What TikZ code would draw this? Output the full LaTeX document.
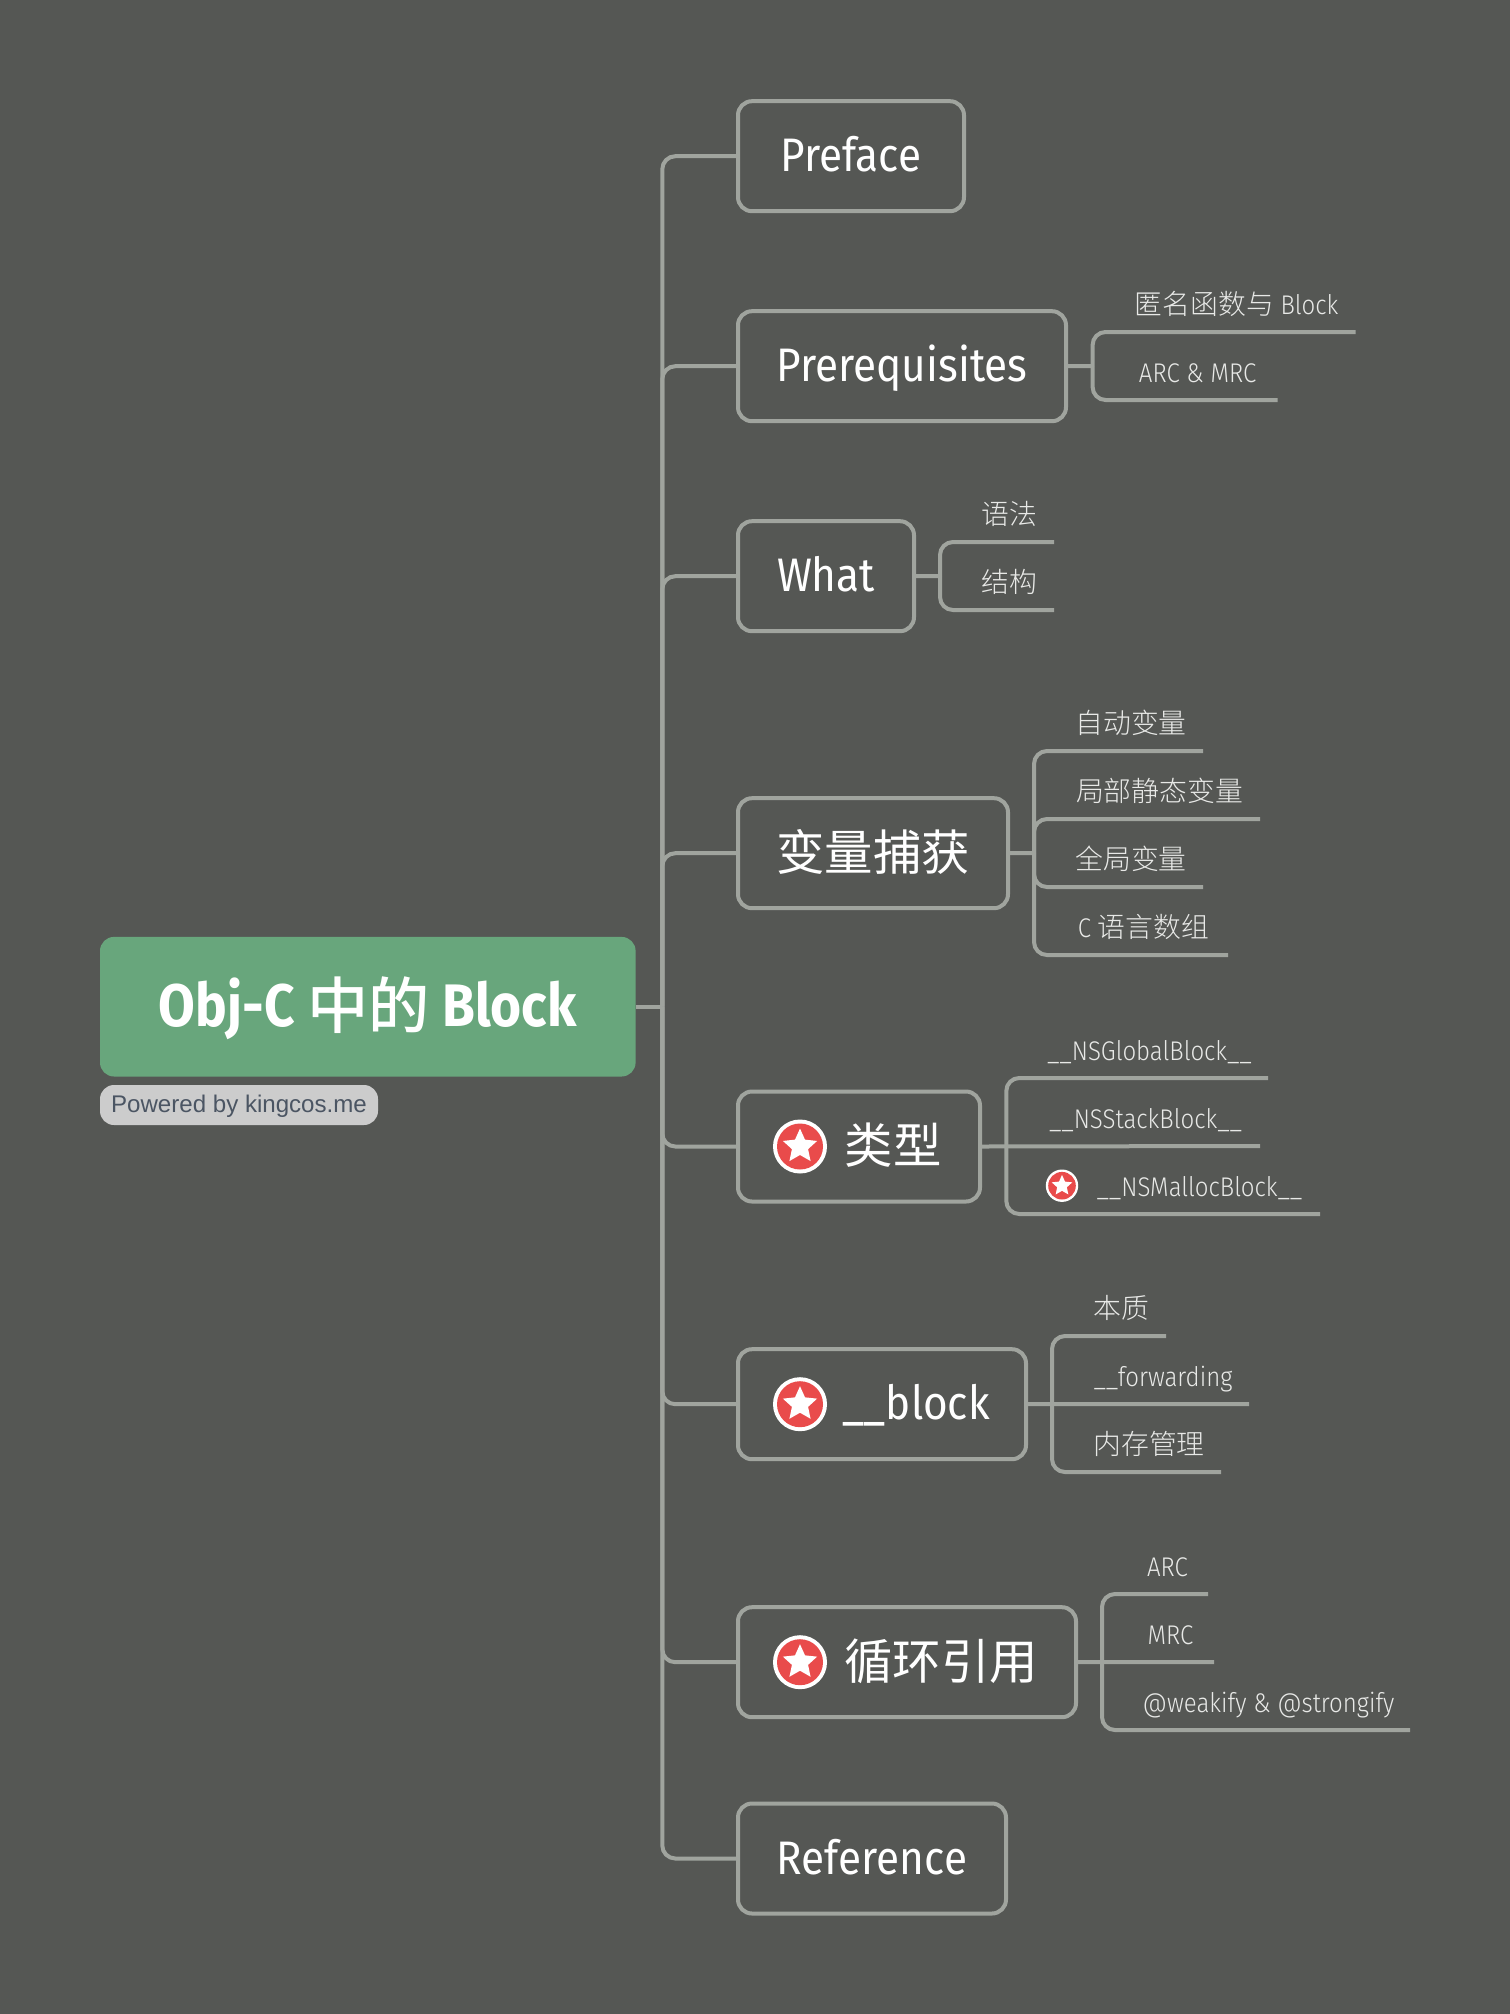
\documentclass[tikz,border=0pt]{standalone}
\usepackage{fontspec}
\setmainfont[FakeStretch=0.90]{Fira Sans}
\newfontfamily\rootlatin[FakeStretch=0.887]{Fira Sans Bold}
\newfontfamily\leaflatin[FakeStretch=0.89]{Fira Sans Light}
\newfontfamily\badgefont{Liberation Sans}
\newfontfamily\cjkregular[Scale=1.03]{Noto Sans CJK SC}
\newfontfamily\cjklight[Scale=1.03]{Noto Sans CJK SC Light}
\newfontfamily\cjkmedium[Scale=1.02]{Noto Sans CJK SC Medium}
\newcommand{\zh}[1]{\raisebox{-0.8pt}{\cjkregular #1}}
\newcommand{\zhl}[1]{{\cjklight #1}}
\definecolor{canvas}{HTML}{555754}
\definecolor{linegray}{HTML}{A0A49E}
\definecolor{rootgreen}{HTML}{68A67C}
\definecolor{markred}{HTML}{E94B4B}
\definecolor{badgegray}{HTML}{CCCCCC}
\definecolor{badgetext}{HTML}{4B5563}
\definecolor{leaftext}{HTML}{E8E9E7}
\tikzset{
	star icon/.pic={
		\fill[white] (0,0) circle (27);
		\fill[markred] (0,0) circle (23);
		\fill[white] (-90:18) \foreach \a/\r in {-54/8.5,-18/18,18/8.5,54/18,90/8.5,126/18,162/8.5,198/18,234/8.5} {-- (\a:\r)} -- cycle;
	}
}
\begin{document}
\begin{tikzpicture}[x=0.5pt, y=-0.5pt,
	root node/.style={fill=rootgreen, text=white, rounded corners=7pt, outer sep=0pt, minimum width=267.8pt, minimum height=69.8pt, text height=26pt, text depth=6pt, font=\fontsize{30pt}{36pt}\rootlatin},
	badge node/.style={fill=badgegray, text=badgetext, rounded corners=7pt, outer sep=0pt, minimum width=139pt, minimum height=20pt, inner sep=0pt, text height=10pt, text depth=2.3pt, font=\fontsize{12.05pt}{15pt}\badgefont},
	topic node/.style={draw=linegray, line width=2pt, rounded corners=7pt, anchor=west, outer sep=0pt, inner xsep=0pt, minimum height=55pt, text height=19.75pt, text depth=4.25pt, text=white, font=\fontsize{23.5pt}{28pt}\selectfont},
	leaf node/.style={anchor=south west, inner sep=0pt, outer sep=0pt, text height=12pt, text depth=9pt, text=leaftext, font=\fontsize{13.5pt}{16pt}\leaflatin},
	link/.style={draw=linegray, line width=2pt, rounded corners=6.5pt},
	stem/.style={draw=linegray, line width=2pt}]
	\fill[canvas] (0,0) rectangle (1510,2014);
	\useasboundingbox (0,0) rectangle (1510,2014);

	\node[root node] (root) at (367.8,1006.7) {Obj-C \raisebox{-0.8pt}{\cjkmedium 中的} Block};
	\node[badge node] (powered) at (239,1105) {Powered by kingcos.me};
	\coordinate (trunk) at (662.3,1006.7);

	\node[topic node, minimum width=113pt] (preface) at (738,156.2) {Preface};
	\node[topic node, minimum width=164pt] (prereq) at (738,366.2) {Prerequisites};
	\node[topic node, minimum width=88pt] (what) at (738,576.2) {What};
	\node[topic node, minimum width=135pt] (capture) at (738,853.2) {\zh{变量捕获}};
	\node[topic node, minimum width=121pt] (types) at (738,1146.5) {\hspace*{34pt}\zh{类型}};
	\node[topic node, minimum width=144pt] (block) at (738,1404.2) {\hspace*{34pt}\_\_block};
	\node[topic node, minimum width=169pt] (cycle) at (738,1662.2) {\hspace*{34pt}\zh{循环引用}};
	\node[topic node, minimum width=134pt] (reference) at (738,1858.5) {Reference};

	\pic at (800,1146.5) {star icon};
	\pic at (800,1404.2) {star icon};
	\pic at (800,1662.2) {star icon};

	% main trunk
	\draw[stem] (root.east) -- (trunk);
	\draw[link] (trunk) |- (preface.west);
	\draw[link] (trunk) |- (prereq.west);
	\draw[link] (trunk) |- (what.west);
	\draw[link] (trunk) |- (capture.west);
	\draw[link] (trunk) |- (types.west);
	\draw[link] (trunk) |- (block.west);
	\draw[link] (trunk) |- (cycle.west);
	\draw[link] (trunk) |- (reference.west);

	\node[leaf node, minimum width=119pt] (anon) at (1117.6,332) {\zhl{匿名函数与} Block};
	\node[leaf node, minimum width=80pt] (arcmrc) at (1117.6,400) {ARC \& MRC};
	\coordinate (prereqfork) at (1092.6,366);
	\draw[stem] (prereq.east) -- (prereqfork);
	\draw[link] (prereqfork) |- (anon.south east);
	\draw[link] (prereqfork) |- (arcmrc.south east);

	\node[leaf node, minimum width=44.5pt] (syntax) at (965,542) {\zhl{语法}};
	\node[leaf node, minimum width=44.5pt] (struct) at (965,610) {\zhl{结构}};
	\coordinate (whatfork) at (940,576);
	\draw[stem] (what.east) -- (whatfork);
	\draw[link] (whatfork) |- (syntax.south east);
	\draw[link] (whatfork) |- (struct.south east);

	\node[leaf node, minimum width=72pt] (autovar) at (1059,751) {\zhl{自动变量}};
	\node[leaf node, minimum width=100.5pt] (staticvar) at (1059,819) {\zhl{局部静态变量}};
	\node[leaf node, minimum width=72pt] (globalvar) at (1059,887) {\zhl{全局变量}};
	\node[leaf node, minimum width=84.5pt] (carray) at (1059,955) {C \zhl{语言数组}};
	\coordinate (capturefork) at (1034,853);
	\draw[stem] (capture.east) -- (capturefork);
	\draw[link] (capturefork) |- (autovar.south east);
	\draw[link] (capturefork) |- (staticvar.south east);
	\draw[link] (capturefork) |- (globalvar.south east);
	\draw[link] (capturefork) |- (carray.south east);

	\node[leaf node, minimum width=118.5pt] (globalblock) at (1031,1078) {\_\_NSGlobalBlock\_\_};
	\node[leaf node, minimum width=114.5pt] (stackblock) at (1031,1146) {\_\_NSStackBlock\_\_};
	\node[leaf node, minimum width=144.5pt] (mallocblock) at (1031,1214) {\hspace*{24pt}\_\_NSMallocBlock\_\_};
	\pic[scale=0.6] at (1062,1185.7) {star icon};
	\coordinate (typesfork) at (1006.3,1146);
	\draw[stem] (types.east) -- (stackblock.south east);
	\draw[link] (typesfork) |- (globalblock.south east);
	\draw[link] (typesfork) |- (mallocblock.south east);

	\node[leaf node, minimum width=44.5pt] (essence) at (1077,1336) {\zhl{本质}};
	\node[leaf node, minimum width=86pt] (forwarding) at (1077,1404) {\_\_forwarding};
	\node[leaf node, minimum width=72pt] (memory) at (1077,1472) {\zhl{内存管理}};
	\coordinate (blockfork) at (1052,1404);
	\draw[stem] (block.east) -- (forwarding.south east);
	\draw[link] (blockfork) |- (essence.south east);
	\draw[link] (blockfork) |- (memory.south east);

	\node[leaf node, minimum width=40.5pt] (arc) at (1127,1594) {ARC};
	\node[leaf node, minimum width=43.5pt] (mrc) at (1127,1662) {MRC};
	\node[leaf node, minimum width=141.5pt] (weakify) at (1127,1730) {@weakify \& @strongify};
	\coordinate (cyclefork) at (1102,1662);
	\draw[stem] (cycle.east) -- (mrc.south east);
	\draw[link] (cyclefork) |- (arc.south east);
	\draw[link] (cyclefork) |- (weakify.south east);
\end{tikzpicture}
\end{document}
